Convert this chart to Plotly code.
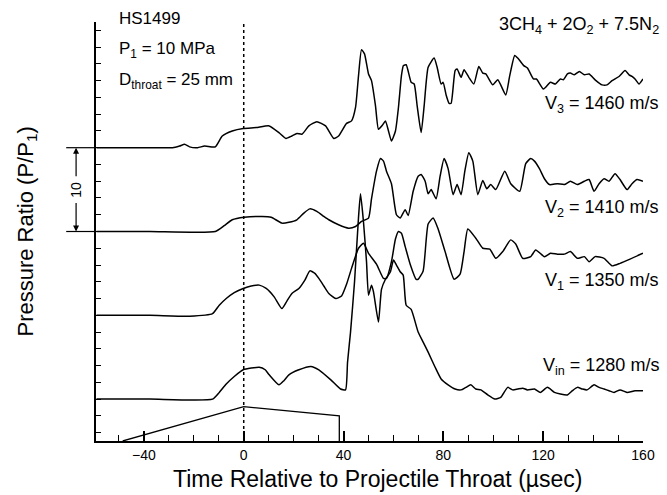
import plotly.graph_objects as go

# ---- data: time relative to projectile throat (usec), pressure ratio P/P1 ----
v3 = [(-59,1.0),(-37.6,1.0),(-28.5,1.0),(-25.7,1.2),(-23.7,1.4),(-21.7,1.1),(-18.5,1.0),(-15.7,1.2),(-11.4,1.1),
      (-8.6,2.4),(-4.6,3.0),(-0.2,3.3),(5.0,3.4),(10.2,3.6),(14.1,2.8),(16.9,2.1),(19.3,2.4),(21.3,2.7),(23.3,2.6),
      (26.1,3.6),(29.3,4.1),(32.8,3.6),(36.1,2.1),(38.0,2.4),(41.2,3.9),(43.2,4.2),(44.8,5.8),(46.0,9.6),(47.2,12.7),
      (48.4,12.2),(50.0,9.8),(51.2,9.0),(52.8,6.0),(54.0,3.2),(55.6,3.7),(56.8,4.2),(58.0,3.0),(59.2,1.8),(60.8,3.0),
      (62.0,5.8),(63.2,9.6),(64.0,10.8),(65.1,10.9),(67.1,8.8),(68.3,8.6),(69.5,6.0),(71.1,2.8),(72.3,6.0),(73.9,10.6),
      (76.3,11.7),(77.5,10.6),(79.1,8.6),(79.9,8.8),(81.1,7.3),(82.3,6.3),(83.1,6.3),(84.7,10.2),(85.5,10.4),(87.1,9.4),
      (88.3,10.3),(90.2,9.4),(92.2,8.6),(94.2,10.7),(95.8,9.9),(97.0,9.8),(99.8,8.5),(101.8,9.1),(105.0,7.3),(106.6,9.6),
      (108.6,12.0),(109.8,11.7),(112.2,10.8),(113.7,10.5),(116.1,9.2),(117.3,9.2),(120.1,8.0),(122.9,8.8),(124.9,8.6),
      (126.9,9.2),(128.1,9.1),(129.7,9.8),(130.9,9.9),(132.5,9.7),(134.5,10.1),(136.5,9.7),(138.4,9.8),(140.8,9.1),
      (143.6,8.5),(145.6,8.5),(147.6,9.0),(150.4,9.5),(152.8,10.2),(154.4,9.7),(155.6,9.5),(156.8,9.2),(158.4,8.6),(160,9.2)]

v2 = [(-59,1.0),(-37.6,1.0),(-11.4,1.0),(-7.8,1.7),(-4.6,2.4),(0.2,2.7),(7.4,2.8),(11.0,2.7),(15.3,2.0),(18.1,2.1),
      (21.3,2.4),(24.1,3.2),(26.5,3.7),(29.3,3.4),(32.1,2.8),(34.1,2.4),(38.0,1.8),(42.0,1.4),(44.8,1.6),(47.2,2.2),
      (50.0,2.6),(51.2,4.9),(53.2,8.2),(54.8,9.7),(56.0,9.4),(57.2,8.2),(59.2,6.7),(61.2,3.0),(62.7,2.6),(64.7,3.6),
      (65.9,2.9),(67.9,5.8),(69.9,7.6),(71.1,7.8),(72.7,7.0),(73.9,5.5),(75.1,6.0),(77.1,4.9),(78.7,7.6),(80.3,9.7),
      (81.9,8.5),(83.9,5.4),(85.5,6.6),(87.1,5.4),(88.6,8.2),(90.2,10.4),(91.8,9.4),(93.8,5.4),(95.8,7.1),(97.4,6.1),
      (99.0,6.6),(101.0,6.0),(104.6,8.2),(107.0,6.7),(110.6,5.8),(113.0,9.1),(115.0,9.7),(116.5,9.4),(118.5,8.5),
      (120.5,7.3),(122.5,6.6),(125.7,6.7),(128.5,6.6),(130.9,7.0),(133.7,6.6),(136.5,7.0),(138.4,7.2),(140.4,5.8),
      (142.4,6.7),(144.4,7.3),(146.4,7.0),(148.8,7.9),(150.8,7.2),(153.6,6.0),(155.6,6.7),(157.6,7.2),(160,7.0)]

v1 = [(-59,1.0),(-37.6,1.0),(-21.7,0.9),(-12.5,1.2),(-9.8,2.2),(-7.0,3.0),(-3.8,3.7),(-0.2,4.2),(3.0,4.5),(6.2,4.6),
      (9.0,4.2),(12.2,3.2),(15.3,1.8),(17.3,2.7),(19.3,3.6),(22.1,4.2),(24.5,5.2),(26.5,6.3),(28.5,6.0),(30.1,5.4),
      (32.1,4.5),(34.1,3.6),(36.9,3.0),(39.2,3.3),(41.2,4.7),(43.2,6.6),(46.0,9.0),(48.0,9.6),(50.0,8.4),(53.2,7.1),
      (56.0,5.4),(57.2,5.4),(59.2,7.4),(60.8,10.1),(62.0,11.0),(63.2,10.8),(64.7,9.2),(66.7,7.1),(69.1,5.3),(69.9,5.3),
      (71.9,6.3),(73.9,11.9),(75.9,12.6),(77.9,11.3),(80.7,8.6),(84.3,5.3),(86.7,5.9),(88.3,8.6),(89.8,11.3),(93.0,10.2),
      (95.8,9.0),(98.6,8.9),(101.0,7.8),(103.8,8.6),(107.0,10.0),(109.0,9.5),(111.8,7.8),(115.0,8.0),(117.0,8.8),
      (120.5,8.0),(122.9,8.4),(125.7,8.3),(128.5,8.3),(130.9,8.6),(133.7,7.8),(136.5,8.0),(138.4,7.4),(140.8,8.0),
      (144.4,7.8),(147.6,6.9),(150.8,7.2),(154.8,7.7),(160,8.4)]

vin = [(-59,1.0),(-37.6,1.0),(-12.5,1.0),(-9.8,1.8),(-7.0,2.8),(-3.8,3.7),(-0.2,4.5),(6.2,4.8),(8.6,4.5),(10.2,3.9),
       (14.1,2.7),(16.1,3.2),(18.1,3.9),(22.1,4.5),(26.9,4.9),(30.1,4.5),(34.9,3.3),(38.8,2.2),(40.8,2.1),(41.6,5.4),
       (42.8,9.0),(44.4,15.0),(46.0,22.7),(46.8,25.5),(48.0,22.1),(49.2,17.4),(50.0,13.4),(51.2,14.6),(52.0,13.8),
       (54.0,10.2),(55.2,14.1),(56.8,15.3),(58.8,16.2),(60.0,17.6),(61.2,17.0),(62.7,16.2),(63.9,15.8),(65.1,12.2),
       (67.1,11.7),(69.9,9.0),(71.9,7.8),(73.9,6.6),(76.7,4.8),(79.1,3.4),(81.9,2.7),(84.7,2.2),(87.1,2.1),(89.0,2.4),
       (91.0,2.7),(93.0,2.2),(95.0,2.1),(97.8,1.5),(100.6,1.0),(103.0,1.2),(105.8,2.4),(107.8,2.1),(109.8,2.2),
       (111.8,2.3),(113.7,2.1),(116.5,2.2),(118.9,1.8),(121.7,2.4),(124.5,1.8),(126.9,1.6),(129.7,1.5),(131.7,2.0),
       (133.7,2.4),(135.7,2.2),(137.6,2.1),(140.4,2.7),(142.4,2.4),(144.4,2.2),(146.4,2.0),(148.4,1.8),(150.8,2.1),
       (153.6,1.8),(156.8,2.0),(160,2.0)]

# projectile profile (time, height in chart units)
t_proj = [-48.5, 0, 38.3, 38.3]
h_proj = [0, 4.1, 3.0, 0]

trace_names = ["V3", "V2", "V1", "Vin"]
trace_data = [v3, v2, v1, vin]
offsets = [35, 25, 15, 5]          # vertical stacking of the traces
labels = ["V<sub>3</sub> = 1460 m/s", "V<sub>2</sub> = 1410 m/s",
          "V<sub>1</sub> = 1350 m/s", "V<sub>in</sub> = 1280 m/s"]
label_y = [40.2, 27.8, 19.0, 8.95]

FONT = "Liberation Sans, Arial, sans-serif"

fig = go.Figure()
for name, data, off in zip(trace_names, trace_data, offsets):
    fig.add_trace(go.Scatter(
        x=[d[0] for d in data], y=[off + d[1] - 1 for d in data],
        mode="lines", name=name, line=dict(color="black", width=1.5, shape="spline", smoothing=0.5),
        hoverinfo="skip"))

fig.add_trace(go.Scatter(x=t_proj, y=h_proj, mode="lines", line=dict(color="black", width=1.3),
                         hoverinfo="skip"))

# dashed line at t = 0
fig.add_shape(type="line", x0=0, x1=0, y0=0, y1=49.8, xref="x", yref="y",
              line=dict(color="black", width=1.5, dash="3px,3px"))

# scale bar (10 units)
for yv in (35, 25):
    fig.add_shape(type="line", xref="paper", yref="y", x0=-0.0545, x1=0, y0=yv, y1=yv,
                  line=dict(color="black", width=1.2))
fig.add_annotation(x=-0.0364, y=35, xref="paper", yref="y", ax=0, ay=30, text="",
                   showarrow=True, arrowhead=2, arrowsize=1, arrowwidth=1.2, arrowcolor="black")
fig.add_annotation(x=-0.0364, y=25, xref="paper", yref="y", ax=0, ay=-30, text="",
                   showarrow=True, arrowhead=2, arrowsize=1, arrowwidth=1.2, arrowcolor="black")
fig.add_annotation(x=-0.0364, y=30, xref="paper", yref="y", text="10", textangle=-90,
                   xanchor="center", yanchor="middle",
                   showarrow=False, font=dict(family=FONT, size=14, color="black"))

# text annotations
for txt, yv in zip(labels, label_y):
    fig.add_annotation(x=1.033, y=yv, xref="paper", yref="y", text=txt, xanchor="right", yanchor="middle",
                       showarrow=False, font=dict(family=FONT, size=18, color="black"))

# paper y for pixel row p: (441 - p) / 419
def py(p):
    return (441 - p) / 419

fig.add_annotation(x=1.033, y=py(25), xref="paper", yref="paper", xanchor="right", yanchor="middle",
                   showarrow=False, text="3CH<sub>4</sub> + 2O<sub>2</sub> + 7.5N<sub>2</sub>",
                   font=dict(family=FONT, size=18, color="black"))
for txt, p in [("HS1499", 19), ("P<sub>1</sub> = 10 MPa", 50), ("D<sub>throat</sub> = 25 mm", 81)]:
    fig.add_annotation(x=0.038, y=py(p), xref="paper", yref="paper", xanchor="left", yanchor="middle",
                       showarrow=False, text=txt, font=dict(family=FONT, size=17, color="black"))

fig.add_annotation(x=0.516, y=py(479), xref="paper", yref="paper", showarrow=False,
                   xanchor="center", yanchor="middle",
                   text="Time Relative to Projectile Throat (\u00b5sec)",
                   font=dict(family=FONT, size=23, color="black"))
fig.add_annotation(x=-0.127, y=py(232), xref="paper", yref="paper", showarrow=False, textangle=-90,
                   xanchor="center", yanchor="middle",
                   text="Pressure Ratio (P/P<sub>1</sub>)",
                   font=dict(family=FONT, size=22, color="black"))

fig.update_layout(
    width=667, height=495, margin=dict(l=96, r=21, t=22, b=54),
    paper_bgcolor="white", plot_bgcolor="white", showlegend=False,
    xaxis=dict(range=[-59.2, 160], tick0=0, dtick=40, ticks="inside", ticklen=10, tickwidth=1.5,
               tickcolor="black", showline=True, linecolor="black", linewidth=2, showgrid=False,
               zeroline=False, tickfont=dict(family=FONT, size=14, color="black"),
               minor=dict(tick0=0, dtick=10, ticks="inside", ticklen=6, tickwidth=1.2, tickcolor="black")),
    yaxis=dict(range=[0, 50], tickvals=list(range(1, 50, 2)), ticks="inside", ticklen=5, tickwidth=1.2,
               tickcolor="black", showticklabels=False, showline=True, linecolor="black", linewidth=2,
               showgrid=False, zeroline=False),
)

fig.write_html("out.html")
